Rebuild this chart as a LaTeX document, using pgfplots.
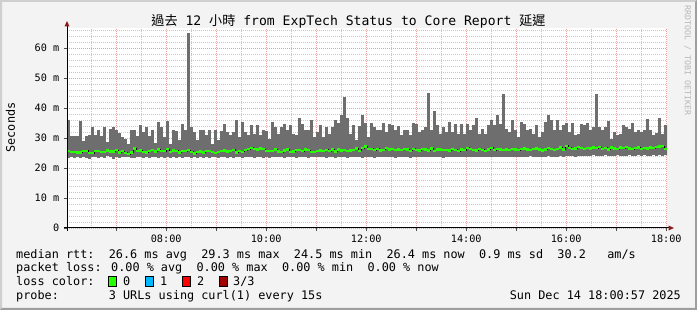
\documentclass[border=0pt]{standalone}
\usepackage{fontspec}
\setmainfont{DejaVu Sans Mono}
\newfontfamily\cjk{Noto Sans CJK TC}
\usepackage{pgfplots}
\pgfplotsset{compat=1.18}
\usepackage{pgfplotstable}
\definecolor{bgc}{HTML}{F3F3F3}
\definecolor{shadea}{HTML}{CFCFCF}
\definecolor{shadeb}{HTML}{9E9E9E}
\definecolor{smoke}{HTML}{6E6E6E}
\definecolor{medgreen}{HTML}{26FF00}
\definecolor{lblue}{HTML}{00B8FF}
\definecolor{lred}{HTML}{FF0000}
\definecolor{ldred}{HTML}{A00000}
\definecolor{mgrid}{HTML}{EBA0A0}
\definecolor{mingrid}{HTML}{C8C8C8}
\definecolor{arrowc}{HTML}{8B1A1A}
\newcommand{\legfont}{\fontsize{11.83}{14}\selectfont}

\pgfplotstableread{
max min med
35.9 23.4 25.6
30.5 23.6 25.4
30.8 23.2 25.4
30.6 23.5 25.1
35.8 23.3 25.1
29.0 23.8 25.7
30.8 23.4 25.7
30.9 23.1 25.0
33.5 23.6 24.9
31.0 23.5 25.6
32.5 23.2 25.6
30.5 23.6 25.3
33.8 23.4 25.4
28.8 23.9 25.8
33.0 23.5 25.5
33.6 23.1 25.5
32.5 23.6 25.9
31.5 23.3 25.2
30.4 23.5 25.6
29.5 23.7 25.0
28.0 23.6 24.6
32.8 23.2 25.2
32.6 23.4 26.5
30.8 23.8 25.6
34.2 23.5 25.8
32.0 23.3 25.3
33.6 23.6 25.1
30.8 23.4 25.7
32.5 23.7 25.9
28.2 23.5 25.5
35.3 23.3 26.2
33.6 23.6 25.7
30.4 23.4 25.6
35.6 23.5 26.3
28.1 23.3 25.4
32.5 23.5 25.8
32.4 23.2 25.7
29.2 23.6 25.1
34.8 23.4 25.6
32.5 23.7 25.6
65.1 23.5 25.9
33.6 23.3 25.4
32.0 23.6 24.8
29.2 23.2 25.3
32.8 23.5 25.5
32.8 23.4 25.2
30.9 23.7 25.7
32.8 23.3 25.6
28.1 23.5 25.3
32.5 23.6 25.0
29.2 23.4 25.4
32.2 23.7 25.6
34.8 23.5 25.8
32.0 23.3 25.5
30.9 23.6 25.7
32.0 23.4 26.0
35.9 23.8 25.1
30.3 23.5 25.6
35.3 23.3 25.4
32.0 23.6 25.9
30.9 23.5 26.3
34.2 23.7 26.7
31.4 23.4 26.4
34.2 23.6 26.1
30.9 23.5 26.5
32.5 23.3 26.3
32.3 23.6 25.7
29.8 23.4 25.6
35.3 23.7 25.7
33.6 23.5 26.1
31.4 23.8 25.5
33.6 23.5 25.3
34.8 23.3 25.8
32.5 23.6 26.1
34.2 23.5 25.4
31.4 23.7 25.5
30.9 23.4 26.0
36.6 23.6 25.9
34.8 23.5 25.6
32.5 23.8 26.2
32.8 23.4 25.9
35.9 23.6 25.3
30.3 23.5 25.4
32.0 23.7 25.6
34.2 23.5 25.8
30.3 23.6 25.7
33.6 23.4 26.0
31.4 23.7 25.6
33.6 23.5 26.1
36.1 23.3 25.5
35.0 23.6 26.2
37.8 23.5 25.8
43.6 23.8 25.9
36.8 23.4 25.6
31.4 23.6 25.8
34.2 23.5 26.0
29.2 23.7 26.5
34.0 23.6 25.7
37.5 23.4 26.6
35.0 23.5 27.2
30.3 23.7 26.3
35.0 23.6 26.4
33.6 23.4 25.9
32.8 23.7 26.4
32.5 23.5 25.8
35.0 23.6 26.0
32.0 23.8 26.6
34.5 23.5 26.2
34.2 23.7 26.3
32.5 23.4 25.9
33.9 23.6 26.1
30.9 23.5 26.0
32.5 23.7 26.4
32.8 23.6 26.2
30.9 23.4 25.7
35.0 23.8 26.4
34.8 23.5 26.0
32.0 23.6 25.8
32.5 23.7 26.3
33.6 23.5 26.1
45.1 23.6 25.8
32.5 23.8 26.5
38.9 23.5 25.7
34.2 23.7 26.2
31.4 23.6 26.1
33.6 23.4 25.9
32.0 23.7 26.0
35.3 23.6 25.8
32.0 23.5 26.3
34.8 23.8 26.0
31.4 23.6 25.6
34.8 23.5 26.1
31.4 23.7 25.9
34.5 23.6 26.7
32.5 23.8 26.3
34.2 23.5 26.0
36.8 23.7 25.8
31.4 23.6 26.3
33.1 23.8 26.0
31.4 23.5 25.7
34.2 23.7 26.1
36.1 23.6 26.7
34.2 23.8 25.9
37.8 23.6 26.4
34.8 23.7 26.1
44.8 23.5 25.9
33.1 23.8 26.2
32.0 23.6 26.0
35.9 23.8 26.4
32.5 23.7 26.1
30.3 23.6 25.9
35.3 23.8 26.3
34.8 23.7 26.5
32.5 23.6 26.2
33.1 23.9 26.0
31.4 23.7 26.3
34.2 23.8 26.5
30.3 23.6 26.1
32.0 23.8 25.8
35.3 23.7 26.2
37.5 23.9 26.6
35.9 23.7 26.3
32.5 23.8 26.0
36.1 23.6 26.4
32.5 23.9 26.8
34.2 23.8 26.2
35.0 24.0 27.4
32.0 23.9 26.7
35.0 24.1 26.3
30.9 23.8 26.5
31.4 24.0 26.9
34.5 23.9 26.6
34.2 24.1 26.4
35.0 23.9 26.7
32.5 24.0 26.5
33.6 24.2 26.8
44.8 24.0 26.6
33.6 24.1 26.9
32.5 23.9 26.4
33.6 24.2 26.7
35.5 24.0 26.2
29.8 24.1 26.8
32.0 23.9 26.5
30.9 24.2 26.3
31.4 24.0 26.8
34.2 24.1 26.6
33.6 24.0 26.9
33.1 24.2 26.5
35.0 24.0 26.3
32.0 24.1 26.6
32.5 24.3 26.8
32.0 24.0 26.4
32.8 24.2 26.7
36.4 24.1 26.5
32.5 24.0 26.8
30.9 24.2 26.6
31.6 24.1 26.9
36.8 24.3 27.1
31.4 24.0 27.3
34.2 24.2 26.4
34.2 24.2 26.4
}\data

\begin{document}
\begin{tikzpicture}
\useasboundingbox (0pt,0pt) rectangle (697pt,310pt);
\fill[bgc] (0pt,0pt) rectangle (697pt,310pt);
\fill[shadea] (0pt,0pt) -- (0pt,310pt) -- (697pt,310pt) -- (695pt,308pt) -- (2pt,308pt) -- (2pt,2pt) -- cycle;
\fill[shadeb] (0pt,0pt) -- (697pt,0pt) -- (697pt,310pt) -- (695pt,308pt) -- (695pt,2pt) -- (2pt,2pt) -- cycle;
\fill[white] (67pt,82pt) rectangle (667pt,282pt);
\begin{axis}[
  at={(67pt,82pt)}, anchor=south west,
  scale only axis, width=600pt, height=200pt,
  xmin=0, xmax=200, ymin=0, ymax=66.6667,
  axis line style={draw=none},
  xtick={16.40,33.07,49.74,66.40,83.07,99.74,116.40,133.07,149.74,166.40,183.07,199.74},
  xticklabels={,08:00,,10:00,,12:00,,14:00,,16:00,,18:00},
  minor xtick={8.07,24.74,41.40,58.07,74.74,91.40,108.07,124.74,141.40,158.07,174.74,191.40},
  ytick={0,10,20,30,40,50,60},
  yticklabels={0,10 m,20 m,30 m,40 m,50 m,60 m},
  minor ytick={2,4,6,8,12,14,16,18,22,24,26,28,32,34,36,38,42,44,46,48,52,54,56,58,62,64,66},
  grid=both,
  major grid style={mgrid, line width=0.8pt, dash pattern=on 1pt off 1pt},
  minor grid style={mingrid, line width=0.8pt, dash pattern=on 1pt off 1pt},
  xtick pos=bottom, ytick pos=left,
  tick align=outside,
  major tick length=3pt, minor tick length=0pt,
  major tick style={black!70, line width=0.6pt},
  tick label style={font=\fontsize{10.2}{12}\selectfont, text=black, inner sep=0pt},
  yticklabel style={anchor=east, xshift=-4.5pt},
  xticklabel style={anchor=north, yshift=-3.9pt},
]
\addplot[draw=none, mark=none, forget plot,
  error bars/.cd, y dir=plus, y explicit,
  error bar style={draw=smoke, line width=3.05pt, line cap=butt},
  error mark=none]
  table[x expr=\coordindex+0.5, y=min, y error expr=\thisrow{max}-\thisrow{min}] {\data};
\addplot[const plot, black, line width=1pt, mark=none, forget plot] table[x expr=\coordindex, y=med] {\data};
\addplot[jump mark left, medgreen, line width=2.4pt, mark=none, forget plot] table[x expr=\coordindex, y=med] {\data};
\end{axis}
% axes with arrows
\draw[black, line width=1pt] (64pt,82pt) -- (670pt,82pt);
\draw[black, line width=1pt] (67pt,79pt) -- (67pt,285pt);
\fill[arrowc] (67pt,289pt) -- (64.5pt,283.5pt) -- (69.5pt,283.5pt) -- cycle;
\fill[arrowc] (674pt,82pt) -- (668.5pt,84.5pt) -- (668.5pt,79.5pt) -- cycle;
% title
\node[anchor=base, inner sep=0pt] at (348.5pt,284pt) {\fontsize{13.1}{15}\selectfont{\cjk 過去} 12 {\cjk 小時} from ExpTech Status to Core Report {\cjk 延遲}};
% y label
\node[rotate=90, inner sep=0pt] at (10.5pt,182.5pt) {\legfont Seconds};
% watermark
\node[rotate=-90, anchor=west, inner sep=0pt, text=black!28] at (687.5pt,305pt) {\fontsize{8.3}{10}\selectfont RRDTOOL / TOBI OETIKER};
% legend
\node[anchor=base west, inner sep=0pt] at (16pt,51.7pt) {\legfont median rtt:~~26.6 ms avg~~29.3 ms max~~24.5 ms min~~26.4 ms now~~0.9 ms sd~~30.2~~~am/s};
\node[anchor=base west, inner sep=0pt] at (16pt,38.3pt) {\legfont packet loss: 0.00 \% avg~~0.00 \% max~~0.00 \% min~~0.00 \% now};
\node[anchor=base west, inner sep=0pt] at (16pt,24pt) {\legfont loss color:};
\filldraw[fill=medgreen, draw=black, line width=0.8pt] (108.5pt,24pt) rectangle (116pt,33.5pt);
\filldraw[fill=lblue, draw=black, line width=0.8pt] (145.8pt,24pt) rectangle (153.3pt,33.5pt);
\filldraw[fill=lred, draw=black, line width=0.8pt] (182.8pt,24pt) rectangle (190.3pt,33.5pt);
\filldraw[fill=ldred, draw=black, line width=0.8pt] (219.5pt,24pt) rectangle (227pt,33.5pt);
\node[anchor=base west, inner sep=0pt] at (123pt,24pt) {\legfont 0};
\node[anchor=base west, inner sep=0pt] at (160pt,24pt) {\legfont 1};
\node[anchor=base west, inner sep=0pt] at (197pt,24pt) {\legfont 2};
\node[anchor=base west, inner sep=0pt] at (233pt,24pt) {\legfont 3/3};
\node[anchor=base west, inner sep=0pt] at (16pt,10pt) {\legfont probe:~~~~~~~3 URLs using curl(1) every 15s};
\node[anchor=base east, inner sep=0pt] at (681pt,10pt) {\legfont Sun Dec 14 18:00:57 2025};
\end{tikzpicture}
\end{document}
